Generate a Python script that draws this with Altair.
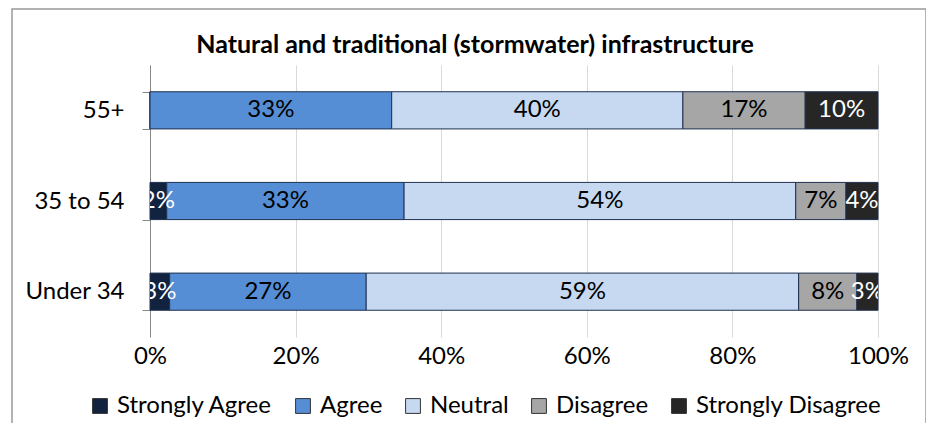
import altair as alt
import pandas as pd

groups = ["55+", "35 to 54", "Under 34"]
responses = ["Strongly Agree", "Agree", "Neutral", "Disagree", "Strongly Disagree"]
colors = ["#12233F", "#558ED5", "#C6D9F1", "#A6A6A6", "#262626"]
text_colors = ["white", "black", "black", "black", "white"]
values = {
    "55+": [0.0, 33.2, 40.0, 16.8, 10.0],
    "35 to 54": [2.3, 32.6, 53.8, 6.9, 4.4],
    "Under 34": [2.7, 27.0, 59.4, 8.0, 2.9],
}
x_ticks = [0, 20, 40, 60, 80, 100]
title_text = "Natural and traditional (stormwater) infrastructure"

rows = []
for g in groups:
    for i, r in enumerate(responses):
        rows.append({"group": g, "response": r, "order": i,
                     "value": values[g][i], "tcolor": text_colors[i]})
df = pd.DataFrame(rows)

FONT = "Lato"
W, H = 728, 272

base = alt.Chart(df).transform_stack(
    stack="value", groupby=["group"], as_=["x0", "x1"],
    sort=[alt.SortField("order", order="ascending")]
)

yscale = alt.Scale(domain=groups, paddingInner=0.59, paddingOuter=0.295)
xscale = alt.Scale(domain=[0, 100], nice=False)

bars = base.mark_bar(stroke="#1F3050", strokeWidth=1).encode(
    y=alt.Y("group:N", scale=yscale, sort=groups,
            axis=alt.Axis(title=None, tickBand="extent", domainColor="#888888",
                          tickColor="#888888", tickSize=8, labelFontSize=24,
                          labelFont=FONT, labelColor="black", labelPadding=18)),
    x=alt.X("x0:Q", scale=xscale,
            axis=alt.Axis(title=None, values=x_ticks, labelExpr="datum.value + '%'",
                          grid=True, gridColor="#D9D9D9", domain=False, ticks=False,
                          labelFlush=False, labelOverlap=False,
                          labelFontSize=24, labelFont=FONT, labelColor="black",
                          labelPadding=7)),
    x2="x1:Q",
    color=alt.Color("response:N", sort=responses,
                    scale=alt.Scale(domain=responses, range=colors),
                    legend=alt.Legend(title=None, orient="none", direction="horizontal",
                                      columns=5, legendX=-62, legendY=329,
                                      symbolType="square", symbolSize=220,
                                      symbolStrokeColor="#333333", symbolStrokeWidth=1,
                                      labelFont=FONT, labelFontSize=24, labelColor="black",
                                      labelLimit=400, labelOffset=5, columnPadding=18)),
    order=alt.Order("order:Q"),
)

labels = base.transform_filter("datum.value > 0").transform_calculate(
    mid="(datum.x0 + datum.x1) / 2",
    lab="format(datum.value, '.0f') + '%'"
).mark_text(font=FONT, fontSize=24, clip=True, baseline="middle").encode(
    y=alt.Y("group:N", scale=yscale, sort=groups),
    x=alt.X("mid:Q", scale=xscale),
    text="lab:N",
    color=alt.Color("tcolor:N", scale=None, legend=None),
)

title = alt.Chart(pd.DataFrame({"t": [title_text]})).mark_text(
    font=FONT, fontSize=25, fontWeight="bold", color="black",
    align="center", baseline="middle", clip=False
).encode(text="t:N", x=alt.value(325), y=alt.value(-20))

frame = alt.Chart(pd.DataFrame({"a": [0]})).mark_rect(
    fill=None, stroke="#999999", strokeWidth=1.5, clip=False
).encode(
    x=alt.value(-138), x2=alt.value(W + 48), y=alt.value(-56), y2=alt.value(H + 90)
)

chart = alt.layer(frame, title, bars, labels).resolve_scale(color="independent").properties(
    width=W, height=H,
    autosize=alt.AutoSizeParams(type="none"),
    padding={"left": 142, "top": 57, "right": 48, "bottom": 86},
).configure_view(stroke=None)

chart.save("out.html", embed_options={"renderer": "svg", "actions": False})
